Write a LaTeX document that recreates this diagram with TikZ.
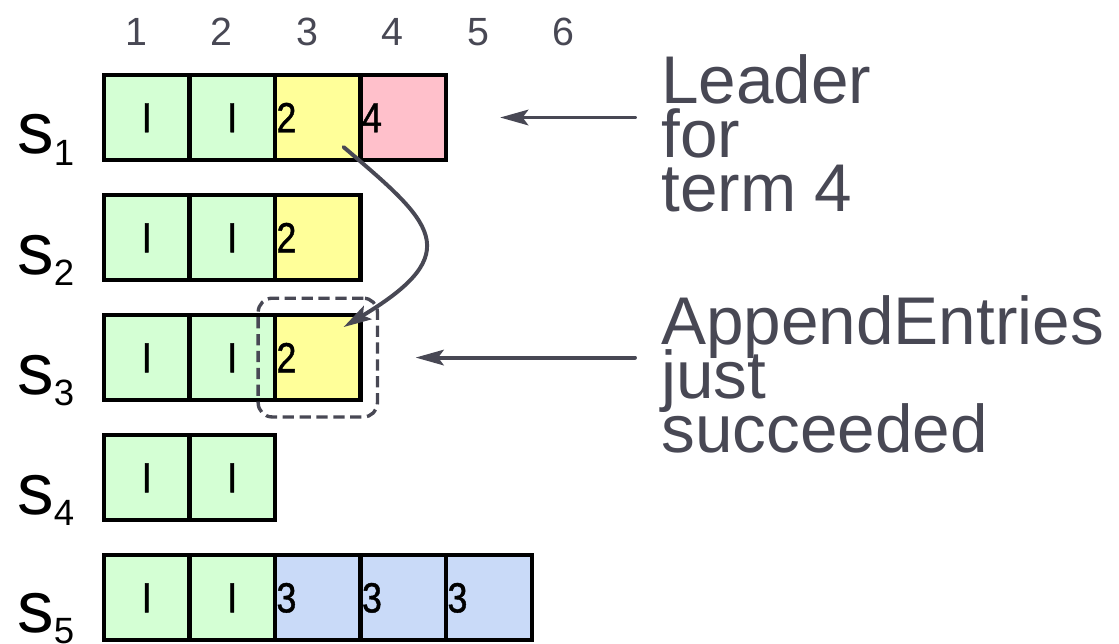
\documentclass[tikz,border=0pt]{standalone}
\usepackage{fontspec}
\setmainfont{Liberation Sans}
\newfontfamily\cellfont[FakeStretch=0.85, FakeBold=1]{Liberation Sans}
\usepackage{tikz}
\usetikzlibrary{arrows.meta, positioning, fit}
\definecolor{cellgreen}{RGB}{212,255,212}
\definecolor{cellyellow}{RGB}{255,255,153}
\definecolor{cellpink}{RGB}{255,192,203}
\definecolor{cellblue}{RGB}{201,218,248}
\definecolor{inkgray}{RGB}{72,72,84}
\tikzset{
  logcell/.style={rectangle, draw=black, line width=3pt, outer sep=0pt,
    inner xsep=1pt, inner ysep=0pt, minimum width=2.1375cm, minimum height=2.125cm,
    text width=58.8pt, text height=21pt, text depth=0pt,
    font=\cellfont\fontsize{30}{30}\selectfont},
  oldcell/.style={logcell, fill=cellgreen, align=center},
  termcell/.style={logcell, align=left},
  srvlabel/.style={anchor=base west, inner sep=0pt, font=\fontsize{52}{52}\selectfont},
  colnum/.style={anchor=base, inner sep=0pt, text=inkgray, font=\fontsize{28}{28}\selectfont},
  note/.style={anchor=north west, inner sep=0pt, align=left, text=inkgray,
    font={\fontsize{48}{38.5}\selectfont\lineskiplimit=-40pt}},
  pointer/.style={-{Stealth[length=20pt, width=11pt, inset=4pt]}, line width=2.8pt,
    draw=inkgray, line cap=round},
  focus/.style={draw=inkgray, line width=2.4pt, dash pattern=on 8pt off 4pt,
    rounded corners=10pt, inner sep=12pt}
}
\newcommand{\srv}[1]{s\raisebox{-8pt}{\fontsize{26}{26}\selectfont #1}}

\begin{document}
\begin{tikzpicture}[x=0.025cm, y=-0.025cm]
  \useasboundingbox (0,0) rectangle (1119,644);

  % log indices
  \node[colnum] (col1) at (136,46) {1};
  \node[colnum] (col2) at (221.5,46) {2};
  \node[colnum] (col3) at (307,46) {3};
  \node[colnum] (col4) at (392.5,46) {4};
  \node[colnum] (col5) at (478,46) {5};
  \node[colnum] (col6) at (563.5,46) {6};

  % servers
  \node[srvlabel] (lab1) at (17,154) {\srv{1}};
  \node[srvlabel] (lab2) at (17,274) {\srv{2}};
  \node[srvlabel] (lab3) at (17,394) {\srv{3}};
  \node[srvlabel] (lab4) at (17,514) {\srv{4}};
  \node[srvlabel] (lab5) at (17,632) {\srv{5}};

  % s1
  \node[oldcell, anchor=north west] (s1c1) at (104,75) {I};
  \node[oldcell, right=0pt of s1c1] (s1c2) {I};
  \node[termcell, fill=cellyellow, right=0pt of s1c2] (s1c3) {2};
  \node[termcell, fill=cellpink, right=0pt of s1c3] (s1c4) {4};
  % s2
  \node[oldcell, below=0.875cm of s1c1] (s2c1) {I};
  \node[oldcell, right=0pt of s2c1] (s2c2) {I};
  \node[termcell, fill=cellyellow, right=0pt of s2c2] (s2c3) {2};
  % s3
  \node[oldcell, below=0.875cm of s2c1] (s3c1) {I};
  \node[oldcell, right=0pt of s3c1] (s3c2) {I};
  \node[termcell, fill=cellyellow, right=0pt of s3c2] (s3c3) {2};
  % s4
  \node[oldcell, below=0.875cm of s3c1] (s4c1) {I};
  \node[oldcell, right=0pt of s4c1] (s4c2) {I};
  % s5
  \node[oldcell, below=0.875cm of s4c1] (s5c1) {I};
  \node[oldcell, right=0pt of s5c1] (s5c2) {I};
  \node[termcell, fill=cellblue, right=0pt of s5c2] (s5c3) {3};
  \node[termcell, fill=cellblue, right=0pt of s5c3] (s5c4) {3};
  \node[termcell, fill=cellblue, right=0pt of s5c4] (s5c5) {3};

  \node[focus, fit=(s3c3)] (caught) {};

  % notes
  \node[note] (leader) at (661,54) {Leader\\for\\term 4};
  \node[note] (append) at (661,295) {AppendEntries\\just\\succeeded};

  \coordinate (leadtail) at (leader.west |- s1c4.east);
  \coordinate (appendtail) at (append.west |- s3c3.east);
  \draw[pointer] ([xshift=-0.65cm]leadtail) -- ([xshift=1.35cm]s1c4.east);
  \draw[pointer] ([xshift=-0.65cm]appendtail) -- ([xshift=1.375cm]s3c3.east);
  \draw[pointer] ([xshift=-0.425cm, yshift=0.325cm]s1c3.south east)
    .. controls +(88,75) and +(125,-75) .. ([xshift=-0.425cm, yshift=-0.3cm]s3c3.north east);
\end{tikzpicture}
\end{document}
